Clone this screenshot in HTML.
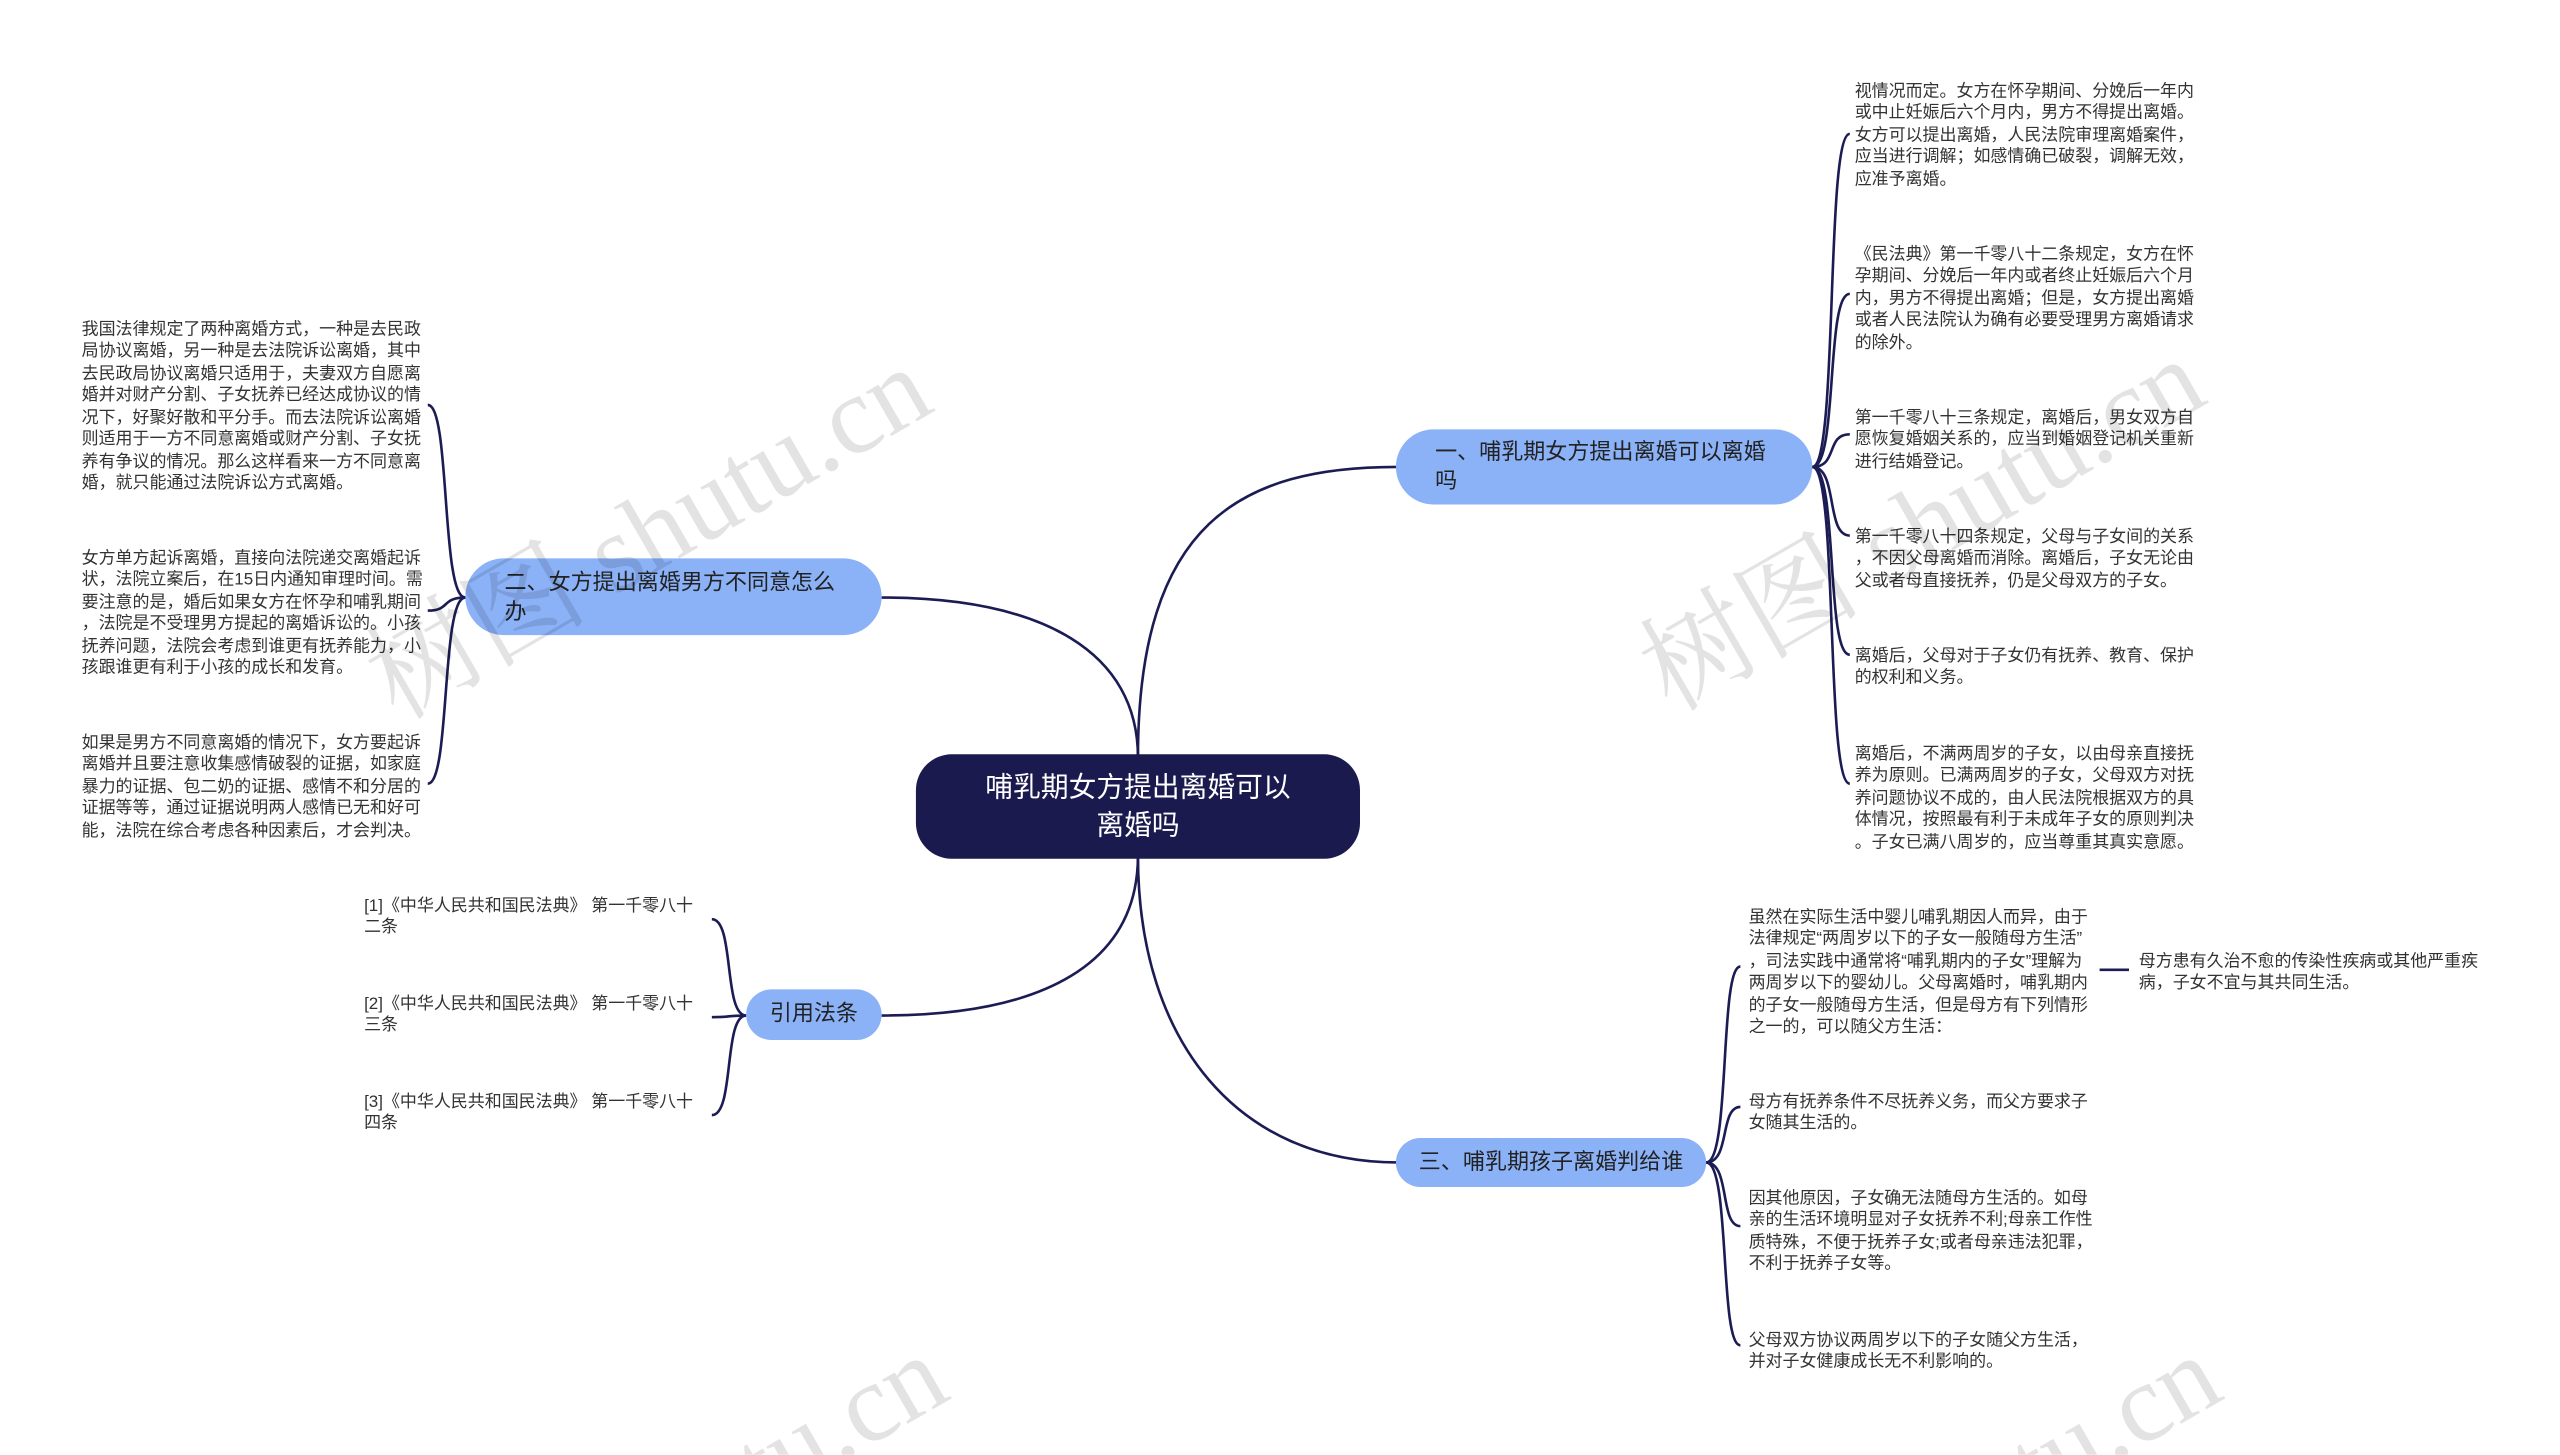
<!DOCTYPE html>
<html><head><meta charset="utf-8"><style>
html,body{margin:0;padding:0;background:#fff;width:2560px;height:1455px;overflow:hidden;}
#wrap{position:relative;width:2560px;height:1455px;overflow:hidden;}
#s{position:absolute;left:0;top:0;width:1568px;height:891px;overflow:hidden;transform:scale(1.632653);transform-origin:0 0;font-family:"Liberation Sans","Noto Sans CJK SC",sans-serif;}
.t{position:absolute;font-size:10.4px;line-height:13.45px;color:#333;line-break:anywhere;word-break:break-all;}
.b{position:absolute;background:#8bb1f7;border-radius:24px;color:#222;font-size:13.5px;line-height:18px;box-sizing:border-box;}
.wm{position:absolute;font-family:"Liberation Serif","Noto Serif CJK SC",serif;font-size:68px;color:rgba(0,0,0,0.11);transform:rotate(-30deg);transform-origin:0 0;white-space:nowrap;}
</style></head><body><div id="wrap"><div id="s">
<svg width="1568" height="891" style="position:absolute;left:0;top:0" fill="none" stroke="#1c1c55" stroke-width="1.6">
<path d="M697,464 C697,320 760,286 856,286"/>
<path d="M697,464 C697,400 640,366 540,366"/>
<path d="M697,524 C697,590 640,622 540,622"/>
<path d="M697,524 C697,640 760,712 856,712"/>
<path d="M1110,286 C1126,286 1118,82 1133,82"/>
<path d="M1110,286 C1126,286 1118,180 1133,180"/>
<path d="M1110,286 C1126,286 1118,266 1133,266"/>
<path d="M1110,286 C1126,286 1118,328 1133,328"/>
<path d="M1110,286 C1126,286 1118,401 1133,401"/>
<path d="M1110,286 C1126,286 1118,480 1133,480"/>
<path d="M285,366 C270,366 276,248 262,248"/>
<path d="M285,366 C270,366 276,374 262,374"/>
<path d="M285,366 C270,366 276,480 262,480"/>
<path d="M457,622 C443,622 450,563 436,563"/>
<path d="M457,622 C443,622 450,623 436,623"/>
<path d="M457,622 C443,622 450,683 436,683"/>
<path d="M1045,712 C1060,712 1053,592 1066,592"/>
<path d="M1045,712 C1060,712 1053,678 1066,678"/>
<path d="M1045,712 C1060,712 1053,751 1066,751"/>
<path d="M1045,712 C1060,712 1053,824 1066,824"/>
<path d="M1286,594 L1304,594"/>
</svg>
<div class="b" style="left:561px;top:462px;width:272px;height:64px;background:#1b1a4f;color:#fff;font-size:17px;line-height:23px;text-align:center;padding-top:9px;border-radius:22px;">哺乳期女方提出离婚可以<br>离婚吗</div>
<div class="b" style="left:855px;top:263px;width:255px;height:46px;padding:5px 0 0 24px;">一、哺乳期女方提出离婚可以离婚<br>吗</div>
<div class="b" style="left:285px;top:342px;width:255px;height:47px;padding:6px 0 0 24px;">二、女方提出离婚男方不同意怎么<br>办</div>
<div class="b" style="left:457px;top:606px;width:83px;height:31px;padding-top:6px;text-align:center;">引用法条</div>
<div class="b" style="left:855px;top:697px;width:190px;height:30px;padding-top:6px;text-align:center;">三、哺乳期孩子离婚判给谁</div>

<div class="t" style="left:1136px;top:50px;width:211px;">视情况而定。女方在怀孕期间、分娩后一年内或中止妊娠后六个月内，男方不得提出离婚。女方可以提出离婚，人民法院审理离婚案件，应当进行调解；如感情确已破裂，调解无效，应准予离婚。</div>
<div class="t" style="left:1136px;top:150px;width:211px;">《民法典》第一千零八十二条规定，女方在怀孕期间、分娩后一年内或者终止妊娠后六个月内，男方不得提出离婚；但是，女方提出离婚或者人民法院认为确有必要受理男方离婚请求的除外。</div>
<div class="t" style="left:1136px;top:250px;width:211px;">第一千零八十三条规定，离婚后，男女双方自愿恢复婚姻关系的，应当到婚姻登记机关重新进行结婚登记。</div>
<div class="t" style="left:1136px;top:323px;width:211px;">第一千零八十四条规定，父母与子女间的关系，不因父母离婚而消除。离婚后，子女无论由父或者母直接抚养，仍是父母双方的子女。</div>
<div class="t" style="left:1136px;top:396px;width:211px;">离婚后，父母对于子女仍有抚养、教育、保护的权利和义务。</div>
<div class="t" style="left:1136px;top:456px;width:211px;">离婚后，不满两周岁的子女，以由母亲直接抚养为原则。已满两周岁的子女，父母双方对抚养问题协议不成的，由人民法院根据双方的具体情况，按照最有利于未成年子女的原则判决。子女已满八周岁的，应当尊重其真实意愿。</div>

<div class="t" style="left:50px;top:196px;width:211px;">我国法律规定了两种离婚方式，一种是去民政局协议离婚，另一种是去法院诉讼离婚，其中去民政局协议离婚只适用于，夫妻双方自愿离婚并对财产分割、子女抚养已经达成协议的情况下，好聚好散和平分手。而去法院诉讼离婚则适用于一方不同意离婚或财产分割、子女抚养有争议的情况。那么这样看来一方不同意离婚，就只能通过法院诉讼方式离婚。</div>
<div class="t" style="left:50px;top:336px;width:211px;">女方单方起诉离婚，直接向法院递交离婚起诉状，法院立案后，在15日内通知审理时间。需要注意的是，婚后如果女方在怀孕和哺乳期间，法院是不受理男方提起的离婚诉讼的。小孩抚养问题，法院会考虑到谁更有抚养能力，小孩跟谁更有利于小孩的成长和发育。</div>
<div class="t" style="left:50px;top:449px;width:211px;">如果是男方不同意离婚的情况下，女方要起诉离婚并且要注意收集感情破裂的证据，如家庭暴力的证据、包二奶的证据、感情不和分居的证据等等，通过证据说明两人感情已无和好可能，法院在综合考虑各种因素后，才会判决。</div>

<div class="t" style="left:223px;top:549px;width:208px;">[1]《中华人民共和国民法典》 第一千零八十二条</div>
<div class="t" style="left:223px;top:609px;width:208px;">[2]《中华人民共和国民法典》 第一千零八十三条</div>
<div class="t" style="left:223px;top:669px;width:208px;">[3]《中华人民共和国民法典》 第一千零八十四条</div>

<div class="t" style="left:1071px;top:556px;width:211px;">虽然在实际生活中婴儿哺乳期因人而异，由于法律规定“两周岁以下的子女一般随母方生活”，司法实践中通常将“哺乳期内的子女”理解为两周岁以下的婴幼儿。父母离婚时，哺乳期内的子女一般随母方生活，但是母方有下列情形之一的，可以随父方生活：</div>
<div class="t" style="left:1310px;top:583px;width:211px;">母方患有久治不愈的传染性疾病或其他严重疾病，子女不宜与其共同生活。</div>
<div class="t" style="left:1071px;top:669px;width:211px;">母方有抚养条件不尽抚养义务，而父方要求子女随其生活的。</div>
<div class="t" style="left:1071px;top:728px;width:211px;">因其他原因，子女确无法随母方生活的。如母亲的生活环境明显对子女抚养不利;母亲工作性质特殊，不便于抚养子女;或者母亲违法犯罪，不利于抚养子女等。</div>
<div class="t" style="left:1071px;top:815px;width:211px;">父母双方协议两周岁以下的子女随父方生活，并对子女健康成长无不利影响的。</div>

<div class="wm" style="left:205px;top:375px;">树图 shutu.cn</div>
<div class="wm" style="left:985px;top:370px;">树图 shutu.cn</div>
<div class="wm" style="left:215px;top:980px;">树图 shutu.cn</div>
<div class="wm" style="left:995px;top:980px;">树图 shutu.cn</div>
</div></div></body></html>
